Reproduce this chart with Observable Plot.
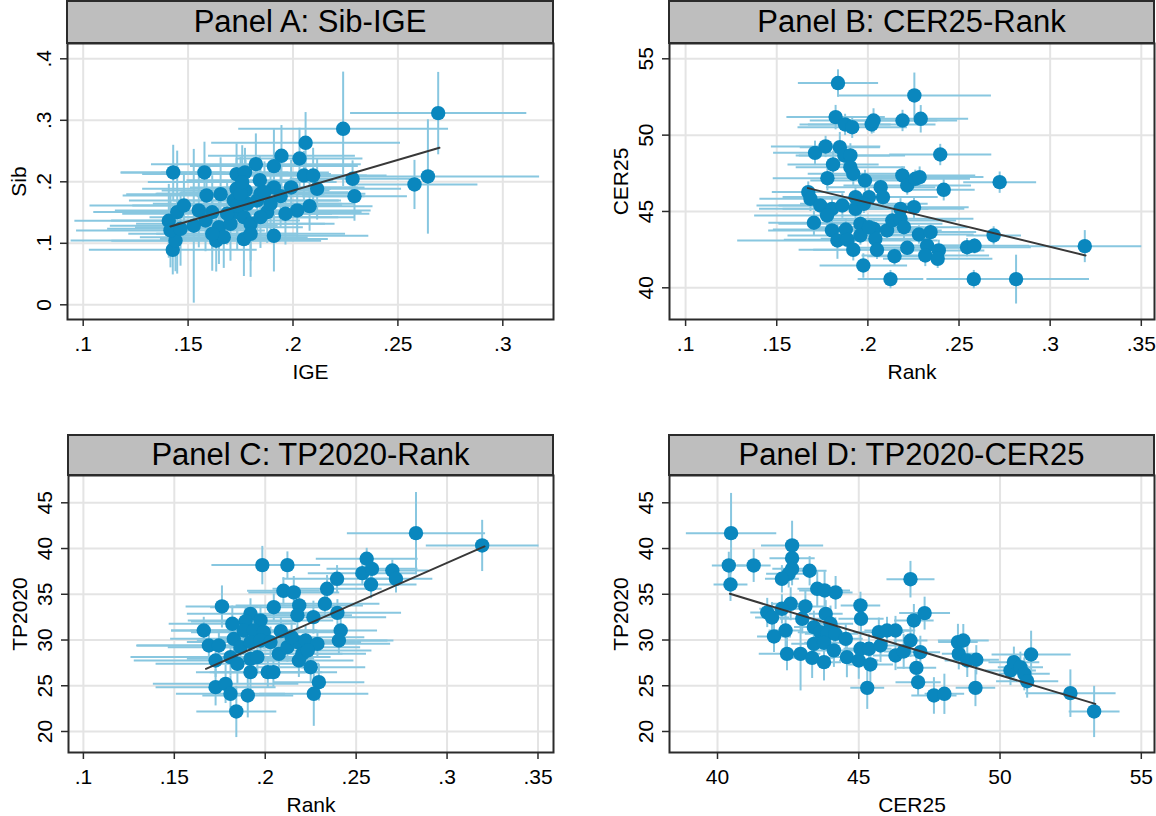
<!DOCTYPE html>
<html>
<head>
<meta charset="utf-8">
<script src="https://cdn.jsdelivr.net/npm/d3@7"></script>
<script src="https://cdn.jsdelivr.net/npm/@observablehq/plot@0.6"></script>
<style>
  body { margin: 0; background: #fff; }
  #root { position: relative; width: 1156px; height: 816px; overflow: hidden; font-family: "Liberation Sans", Arial, Helvetica, sans-serif; }
  .hdr { position: absolute; box-sizing: border-box; background: #bebebe; border: 2px solid #2b2b2b;
         display: flex; align-items: center; justify-content: center; font-size: 31px; color: #000; white-space: nowrap; }
</style>
</head>
<body>
<div id="root"></div>
<script>
// ---------- DATA ----------
// each row: [x value, y value, x half-CI, y half-CI]
const panelA_IGE_Sib = [
  [.2692,.3117,.042,.067],[.2239,.2862,.050,.093],[.2060,.2634,.045,.050],[.1945,.2423,.035,.050],[.2031,.2379,.030,.050],
  [.1909,.2255,.040,.060],[.1823,.2287,.050,.050],[.1429,.2152,.025,.045],[.1578,.2152,.040,.050],[.1731,.2125,.045,.050],
  [.1771,.2152,.040,.040],[.1842,.2027,.035,.040],[.2052,.2103,.030,.040],[.2096,.2103,.035,.045],[.2284,.2049,.030,.030],
  [.2643,.2087,.053,.093],[.2579,.1957,.030,.040],[.2115,.1886,.040,.050],[.1991,.1908,.035,.045],[.1909,.1908,.040,.050],
  [.1731,.1886,.045,.050],[.1774,.1859,.040,.050],[.2293,.1767,.025,.040],[.1588,.1778,.040,.050],[.1655,.1799,.045,.060],
  [.1718,.1696,.050,.050],[.1941,.1767,.040,.050],[.2079,.1604,.030,.040],[.2020,.1534,.035,.045],[.1964,.1480,.040,.050],
  [.1877,.1507,.045,.050],[.1909,.1122,.045,.058],[.1766,.1068,.040,.060],[.1634,.1041,.050,.050],[.1427,.0894,.040,.040],
  [.1440,.1046,.050,.050],[.1408,.1366,.045,.060],[.1416,.1209,.045,.060],[.1448,.1507,.040,.100],[.1480,.1615,.045,.050],
  [.1551,.1534,.040,.060],[.1615,.1507,.050,.060],[.1527,.1285,.040,.125],[.1583,.1371,.045,.050],[.1647,.1263,.040,.060],
  [.1670,.1100,.040,.050],[.1734,.1507,.050,.060],[.1766,.1425,.045,.050],[.1798,.1317,.040,.060],[.1702,.1317,.045,.060],
  [.1829,.1696,.040,.050],[.1893,.1642,.040,.050],[.1782,.1642,.045,.060],[.1734,.1615,.050,.050],[.1464,.1236,.035,.060],
  [.1798,.1154,.045,.070],[.1750,.1805,.040,.060],[.1845,.1805,.050,.050],[.1686,.1480,.050,.050],[.1758,.1995,.045,.060],
  [.1864,.1832,.040,.050],[.1615,.1154,.040,.060],[.1845,.1425,.045,.050]
];
const panelB_Rank_CER25 = [
  [.1836,53.41,.022,0.9],[.2255,52.60,.042,1.5],[.1823,51.18,.027,0.8],[.1875,50.70,.025,0.7],[.1914,50.52,.030,0.7],
  [.2021,50.70,.035,0.6],[.2031,50.96,.035,0.8],[.2190,50.96,.030,0.7],[.2290,51.07,.026,0.9],[.1710,48.84,.023,0.8],
  [.1768,49.26,.030,0.7],[.1846,49.21,.022,1.0],[.1871,48.67,.025,0.8],[.1904,48.67,.030,0.8],[.1809,48.08,.025,0.9],
  [.1904,47.90,.030,0.7],[.1920,47.47,.025,0.8],[.1778,47.18,.030,0.8],[.1984,47.03,.030,0.7],[.2397,48.73,.028,0.7],
  [.2189,47.36,.040,0.6],[.2216,46.70,.035,0.6],[.2260,47.14,.030,0.6],[.2284,47.25,.035,0.7],[.2723,46.92,.020,0.7],
  [.2416,46.42,.017,0.7],[.1673,46.27,.020,0.7],[.1685,45.83,.028,0.8],[.2070,46.59,.030,0.8],[.2083,45.94,.030,0.6],
  [.1932,45.94,.040,0.7],[.2006,45.94,.035,0.6],[.2253,45.28,.030,0.7],[.1739,45.39,.035,0.6],[.1803,45.17,.040,0.7],
  [.1860,45.39,.035,0.8],[.1932,45.17,.040,0.7],[.1978,45.50,.035,0.6],[.2179,45.17,.035,0.7],[.1704,44.26,.025,0.8],
  [.1776,44.74,.040,0.6],[.1803,43.76,.035,0.8],[.1833,43.10,.055,1.2],[.1879,43.82,.040,0.7],[.1889,43.14,.035,0.8],
  [.1959,44.19,.045,0.7],[.2033,43.86,.035,0.6],[.2041,43.21,.030,0.7],[.1959,43.43,.040,0.6],[.1920,42.49,.030,0.7],
  [.2050,42.49,.035,0.6],[.1975,41.46,.024,0.8],[.2146,42.07,.015,0.6],[.2124,40.57,.018,0.6],[.2216,42.62,.030,0.6],
  [.2105,43.76,.030,0.6],[.2134,44.41,.035,0.7],[.2179,44.52,.040,0.6],[.2198,43.97,.035,0.8],[.2280,43.49,.030,0.6],
  [.2344,43.65,.025,0.6],[.2325,42.77,.030,0.8],[.2315,42.12,.035,0.7],[.2389,42.45,.025,0.7],[.2383,41.90,.030,0.6],
  [.2544,42.66,.035,0.6],[.2585,42.75,.030,0.5],[.2690,43.43,.015,0.6],[.3190,42.73,.031,1.05],[.2581,40.57,.026,0.6],
  [.2813,40.57,.040,1.6],[.2006,43.97,.030,0.6]
];
const panelC_Rank_TP2020 = [
  [.2829,41.68,.038,4.5],[.3193,40.34,.031,2.8],[.1984,38.19,.028,2.1],[.2122,38.19,.018,1.5],[.2558,38.88,.028,1.2],
  [.2534,37.31,.030,1.3],[.2587,37.78,.025,1.5],[.2699,37.60,.020,1.2],[.2719,36.69,.020,1.5],[.2395,36.69,.030,1.5],
  [.2582,36.07,.025,1.5],[.2100,35.38,.020,1.5],[.2157,35.20,.025,1.8],[.2340,35.60,.030,1.5],[.1762,33.67,.020,2.3],
  [.2047,33.59,.035,1.5],[.2328,33.96,.030,1.5],[.2187,33.78,.035,1.5],[.2177,32.72,.030,1.6],[.2265,32.50,.040,1.8],
  [.2397,32.97,.035,1.5],[.1919,32.86,.035,1.7],[.1892,32.03,.030,1.5],[.1974,32.14,.040,1.6],[.1819,31.77,.035,2.0],
  [.1662,31.04,.018,1.5],[.2415,31.04,.020,1.5],[.2405,29.95,.030,1.5],[.2086,30.97,.035,1.5],[.1690,29.40,.040,1.6],
  [.1745,29.40,.045,1.6],[.1727,27.76,.045,1.8],[.1827,30.13,.035,1.7],[.1882,31.04,.040,1.8],[.1937,31.04,.035,1.5],
  [.1992,30.86,.040,1.8],[.1864,29.22,.040,1.9],[.1919,29.77,.035,1.6],[.1974,29.95,.035,1.8],[.2029,29.77,.040,1.7],
  [.1809,28.13,.055,2.0],[.1847,27.40,.045,2.2],[.1919,27.94,.035,1.8],[.1957,28.13,.040,1.7],[.1919,26.49,.030,2.0],
  [.2014,26.49,.030,1.7],[.2045,26.49,.035,1.6],[.2075,28.49,.035,1.8],[.2122,29.22,.040,1.6],[.2177,29.77,.035,1.7],
  [.2222,29.95,.045,1.6],[.2287,29.58,.040,1.5],[.2185,27.76,.030,1.8],[.2204,28.49,.035,1.6],[.2250,27.03,.030,1.7],
  [.2295,25.39,.025,2.0],[.2267,24.12,.030,3.5],[.1727,24.85,.033,2.0],[.1782,25.21,.040,2.1],[.1809,24.12,.030,2.0],
  [.1904,23.94,.025,2.4],[.1841,22.19,.022,2.8],[.2145,30.31,.040,1.6],[.2234,28.86,.035,1.8]
];
const panelD_CER25_TP2020 = [
  [40.48,41.68,1.6,4.4],[40.40,38.15,0.6,1.5],[41.28,38.15,0.6,1.8],[40.46,36.07,0.6,1.8],[42.64,40.34,1.1,2.7],
  [42.64,38.95,0.8,1.5],[42.64,37.78,0.7,1.8],[42.52,37.24,0.8,1.5],[42.28,36.69,0.6,1.5],[43.26,37.57,0.6,1.6],
  [46.83,36.65,0.85,2.0],[43.53,35.60,0.7,2.0],[43.79,35.42,0.9,2.1],[44.18,35.20,0.6,1.8],[45.06,33.78,0.7,1.5],
  [45.08,32.32,0.8,1.5],[42.59,33.96,0.7,1.8],[42.28,33.41,0.8,1.6],[43.11,33.67,0.7,1.8],[41.76,33.01,0.6,1.6],
  [41.93,32.46,0.6,1.7],[43.00,32.32,0.8,1.6],[43.83,32.86,0.6,1.5],[44.00,31.77,0.8,2.0],[43.41,31.41,0.7,1.8],
  [43.64,30.86,0.8,1.7],[43.89,30.68,0.8,1.8],[44.17,30.68,0.8,1.8],[44.54,30.13,0.6,1.6],[42.00,30.39,0.6,1.7],
  [42.41,31.04,0.6,1.9],[43.41,29.58,0.8,1.9],[43.77,29.69,0.7,1.6],[44.12,28.86,0.8,1.8],[42.46,28.49,1.0,1.8],
  [42.94,28.49,0.7,4.0],[43.35,28.05,0.8,2.2],[43.77,27.58,0.6,2.0],[44.58,28.13,0.6,2.2],[45.00,27.76,0.7,2.0],
  [45.41,27.33,0.8,2.1],[45.06,29.04,0.6,1.6],[45.36,29.04,0.8,1.6],[45.77,29.40,0.8,1.8],[45.71,30.86,0.9,1.6],
  [46.00,31.04,0.8,1.5],[46.30,31.04,0.7,1.6],[46.30,28.31,0.8,1.6],[46.59,28.75,0.7,1.9],[46.83,29.95,0.6,1.8],
  [46.95,32.14,0.7,1.8],[47.33,32.94,0.9,1.8],[47.18,28.67,0.7,1.8],[47.04,26.96,0.7,1.6],[47.10,25.39,0.8,1.5],
  [45.30,24.77,0.6,2.3],[47.66,23.94,0.8,2.0],[48.03,24.12,0.7,2.2],[48.51,29.77,0.7,2.0],[48.70,29.95,0.9,1.8],
  [48.54,28.49,0.6,1.7],[48.84,27.76,0.8,1.8],[49.16,27.84,0.8,1.6],[49.13,24.77,0.7,2.0],[50.37,26.67,0.9,1.6],
  [50.49,27.58,0.9,1.7],[50.72,27.03,0.8,1.7],[50.86,26.30,0.9,1.8],[51.10,28.42,1.4,2.6],[50.96,25.50,1.1,1.8],
  [52.49,24.19,1.6,2.6],[53.33,22.19,0.9,2.8]
];
// fitted regression lines (end points)
const fitA = [[0.1416, 0.1274], [0.2698, 0.2553]];
const fitB = [[0.1671, 46.53], [0.3194, 42.12]];
const fitC = [[0.1674, 26.85], [0.3206, 40.23]];
const fitD = [[40.44, 35.05], [53.37, 23.02]];
// tick values
const ticksIGE = [0.1, 0.15, 0.2, 0.25, 0.3];
const ticksSib = [0, 0.1, 0.2, 0.3, 0.4];
const ticksRank = [0.1, 0.15, 0.2, 0.25, 0.3, 0.35];
const ticksCER25 = [40, 45, 50, 55];
const ticksTP2020 = [20, 25, 30, 35, 40, 45];
const titles = ["Panel A: Sib-IGE", "Panel B: CER25-Rank", "Panel C: TP2020-Rank", "Panel D: TP2020-CER25"];

// ---------- DRAWING ----------
const FONT = "'Liberation Sans', Arial, Helvetica, sans-serif";
const DOT = "#0a87be", BAR = "#88c7e0", FIT = "#383838", FRAME = "#2b2b2b", GRID = "#e4e4e4";
const fmt = d => d === 0 ? "0" : String(d).replace(/^0\./, ".");
const root = document.getElementById("root");

function panel(cfg) {
  const rows = cfg.data.map(([x, y, ex, ey]) => ({x, y, ex, ey}));
  const fit = cfg.fit.map(([x, y]) => ({x, y}));
  const svg = Plot.plot({
    width: cfg.w, height: cfg.h,
    marginLeft: cfg.m[0], marginRight: cfg.m[1], marginTop: cfg.m[2], marginBottom: cfg.m[3],
    style: {fontFamily: FONT, fontSize: "21px", color: "#222", background: "transparent"},
    x: {domain: cfg.xd}, y: {domain: cfg.yd},
    marks: [
      Plot.gridX(cfg.xt, {stroke: GRID, strokeOpacity: 1, strokeWidth: 2}),
      Plot.gridY(cfg.yt, {stroke: GRID, strokeOpacity: 1, strokeWidth: 2}),
      Plot.link(rows, {x1: d => d.x - d.ex, x2: d => d.x + d.ex, y1: "y", y2: "y", stroke: BAR, strokeWidth: 2, clip: true}),
      Plot.link(rows, {x1: "x", x2: "x", y1: d => d.y - d.ey, y2: d => d.y + d.ey, stroke: BAR, strokeWidth: 2, clip: true}),
      Plot.dot(rows, {x: "x", y: "y", r: 7.2, fill: DOT, stroke: null}),
      Plot.line(fit, {x: "x", y: "y", stroke: FIT, strokeWidth: 2}),
      Plot.frame({stroke: FRAME, strokeWidth: 2}),
      Plot.axisX(cfg.xt, {tickSize: 7, tickFormat: () => "", label: null, stroke: FRAME, strokeWidth: 1.5}),
      Plot.axisY(cfg.yt, {tickSize: 7, tickFormat: () => "", label: null, stroke: FRAME, strokeWidth: 1.5}),
      Plot.text(cfg.xt, {x: d => d, frameAnchor: "bottom", text: fmt, lineAnchor: "top", dy: 17, fontSize: 21, fill: "#000"}),
      Plot.text(cfg.yt, {y: d => d, frameAnchor: "left", text: fmt, rotate: -90, textAnchor: "middle", lineAnchor: "bottom", dx: -17, fontSize: 21, fill: "#000"}),
      Plot.text([cfg.xl], {frameAnchor: "bottom", text: d => d, lineAnchor: "bottom", dy: 59, fontSize: 21, fill: "#000"}),
      Plot.text([cfg.yl], {frameAnchor: "left", text: d => d, rotate: -90, textAnchor: "middle", lineAnchor: "bottom", dx: -42, fontSize: 21, fill: "#000"})
    ]
  });
  svg.style.position = "absolute";
  svg.style.left = cfg.left + "px";
  svg.style.top = cfg.top + "px";
  svg.style.overflow = "visible";
  root.appendChild(svg);
  const h = document.createElement("div");
  h.className = "hdr";
  h.style.left = cfg.hdr[0] + "px"; h.style.top = cfg.hdr[1] + "px";
  h.style.width = cfg.hdr[2] + "px"; h.style.height = cfg.hdr[3] + "px";
  h.textContent = cfg.title;
  root.appendChild(h);
}

panel({data: panelA_IGE_Sib, fit: fitA, xt: ticksIGE, yt: ticksSib, xl: "IGE", yl: "Sib", title: titles[0],
  left: 0, top: 0, w: 556, h: 400, m: [67, 3, 43, 81], xd: [0.09252, 0.32416], yd: [-0.0239, 0.42488],
  hdr: [66, 0, 488, 44]});
panel({data: panelB_Rank_CER25, fit: fitB, xt: ticksRank, yt: ticksCER25, xl: "Rank", yl: "CER25", title: titles[1],
  left: 600, top: 0, w: 556, h: 400, m: [69, 2, 43, 81], xd: [0.09117, 0.35724], yd: [37.924, 56.002],
  hdr: [668, 0, 487, 44]});
panel({data: panelC_Rank_TP2020, fit: fitC, xt: ticksRank, yt: ticksTP2020, xl: "Rank", yl: "TP2020", title: titles[2],
  left: 0, top: 420, w: 556, h: 396, m: [68, 3, 55, 64], xd: [0.09181, 0.35853], yd: [17.704, 47.984],
  hdr: [67, 434, 487, 42]});
panel({data: panelD_CER25_TP2020, fit: fitD, xt: ticksCER25, yt: ticksTP2020, xl: "CER25", yl: "TP2020", title: titles[3],
  left: 600, top: 420, w: 556, h: 396, m: [69, 2, 55, 64], xd: [38.301, 55.467], yd: [17.704, 47.984],
  hdr: [668, 434, 487, 42]});
</script>
</body>
</html>
